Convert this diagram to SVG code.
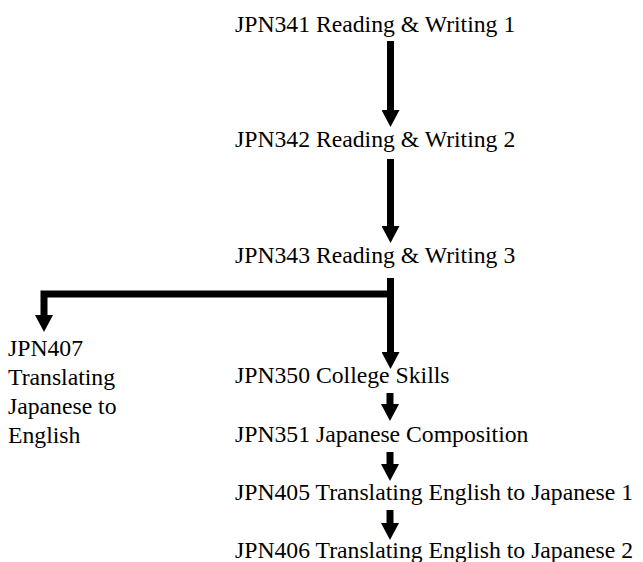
<svg xmlns="http://www.w3.org/2000/svg" width="643" height="562" viewBox="0 0 643 562">
<style>
text { font-family: "Liberation Serif", "Times New Roman", serif; font-size: 23.7px; fill: #000; }
.conn { fill: none; stroke: #000; stroke-width: 7; stroke-linejoin: miter; marker-end: url(#head); }
</style>
<defs>
<marker id="head" markerUnits="userSpaceOnUse" viewBox="0 0 17 18" markerWidth="17" markerHeight="18" refX="0" refY="9" orient="auto">
<path d="M0,0 L17,9 L0,18 Z" fill="#000"/>
</marker>
</defs>
<rect width="643" height="562" fill="#fff"/>
<g id="connectors">
<path class="conn" d="M390.5,41 V110"/>
<path class="conn" d="M390.5,159 V226"/>
<path class="conn" d="M390.5,278 V352"/>
<path class="conn" d="M390.5,294 H44 V315"/>
<path class="conn" d="M390,393 V404"/>
<path class="conn" d="M390,452 V464"/>
<path class="conn" d="M390,510 V523"/>
</g>
<g id="jpn341"><text x="235" y="31.5">JPN341 Reading &amp; Writing 1</text></g>
<g id="jpn342"><text x="235" y="147">JPN342 Reading &amp; Writing 2</text></g>
<g id="jpn343"><text x="235" y="263">JPN343 Reading &amp; Writing 3</text></g>
<g id="jpn407">
<text x="8" y="355.5">JPN407</text>
<text x="8" y="385">Translating</text>
<text x="8" y="414">Japanese to</text>
<text x="8" y="443">English</text>
</g>
<g id="jpn350"><text x="235" y="383">JPN350 College Skills</text></g>
<g id="jpn351"><text x="235" y="442">JPN351 Japanese Composition</text></g>
<g id="jpn405"><text x="235" y="500">JPN405 Translating English to Japanese 1</text></g>
<g id="jpn406"><text x="235" y="558">JPN406 Translating English to Japanese 2</text></g>
</svg>
